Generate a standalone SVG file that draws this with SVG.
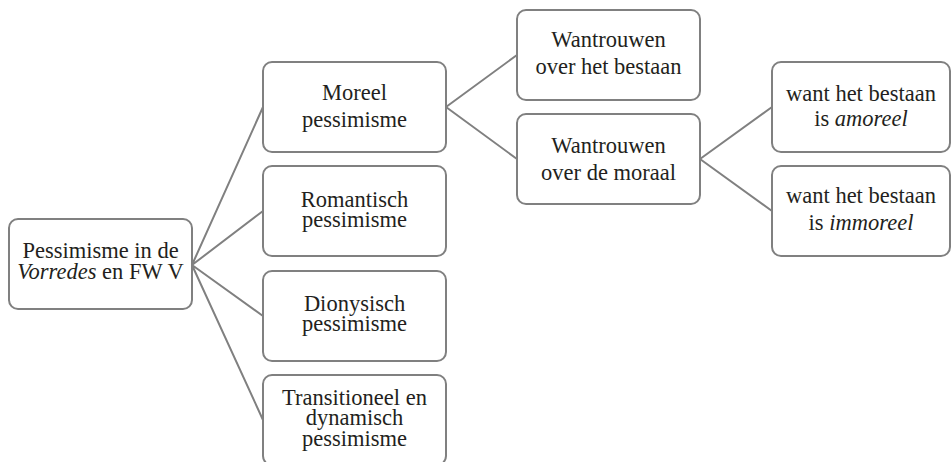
<svg xmlns="http://www.w3.org/2000/svg" width="951" height="462" viewBox="0 0 951 462">
<style>
.box{fill:#fff;stroke:#808080;stroke-width:2}
text{font-family:'Liberation Serif','Times New Roman',serif;font-size:22.5px;fill:#231f20;text-anchor:middle}
.i{font-style:italic}
.c{stroke:#808080;stroke-width:2;fill:none}
</style>
<rect width="951" height="462" fill="#fff"/>
<g id="connectors">
<path class="c" d="M192,265 L263,107 M192,265 L263,211 M192,265 L263,316 M192,265 L263,420"/>
<path class="c" d="M446,107 L517,55 M446,107 L517,159"/>
<path class="c" d="M700,159 L772,107 M700,159 L772,211"/>
</g>
<g id="root">
<rect class="box" x="9" y="219" width="183" height="90" rx="9"/>
<text x="100.5" y="258">Pessimisme in de</text>
<text x="100.5" y="278.5"><tspan class="i">Vorredes</tspan> en FW V</text>
</g>
<g id="moreel">
<rect class="box" x="263" y="62" width="183" height="90" rx="9"/>
<text x="354.5" y="100">Moreel</text>
<text x="354.5" y="127">pessimisme</text>
</g>
<g id="romantisch">
<rect class="box" x="263" y="166" width="183" height="90" rx="9"/>
<text x="354.5" y="206.5">Romantisch</text>
<text x="354.5" y="227">pessimisme</text>
</g>
<g id="dionysisch">
<rect class="box" x="263" y="271" width="183" height="90" rx="9"/>
<text x="354.5" y="310.5">Dionysisch</text>
<text x="354.5" y="331">pessimisme</text>
</g>
<g id="transitioneel">
<rect class="box" x="263" y="375" width="183" height="90" rx="9"/>
<text x="354.5" y="404.5">Transitioneel en</text>
<text x="354.5" y="425">dynamisch</text>
<text x="354.5" y="445.5">pessimisme</text>
</g>
<g id="bestaan">
<rect class="box" x="517" y="10" width="183" height="90" rx="9"/>
<text x="608.5" y="47">Wantrouwen</text>
<text x="608.5" y="74">over het bestaan</text>
</g>
<g id="moraal">
<rect class="box" x="517" y="114" width="183" height="90" rx="9"/>
<text x="608.5" y="153">Wantrouwen</text>
<text x="608.5" y="180">over de moraal</text>
</g>
<g id="amoreel">
<rect class="box" x="772" y="62" width="178" height="90" rx="9"/>
<text x="861" y="101">want het bestaan</text>
<text x="861" y="126">is <tspan class="i">amoreel</tspan></text>
</g>
<g id="immoreel">
<rect class="box" x="772" y="166" width="178" height="90" rx="9"/>
<text x="861" y="203">want het bestaan</text>
<text x="861" y="230">is <tspan class="i">immoreel</tspan></text>
</g>
</svg>
